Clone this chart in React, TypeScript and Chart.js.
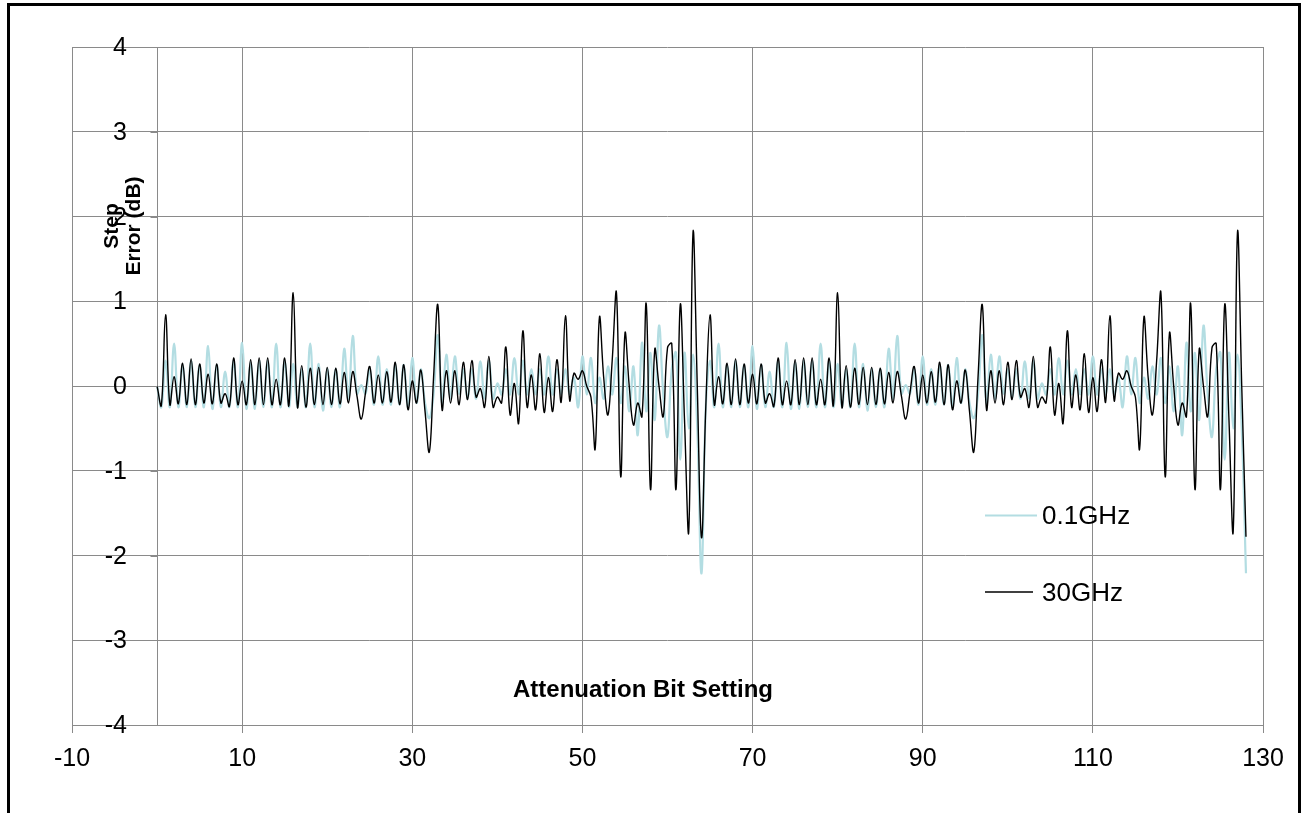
import React, { useEffect, useRef } from "react";
import { Chart, registerables } from "chart.js";

Chart.register(...registerables);

// Attenuation bit setting axis (half-step samples from 0 to 128)
const settingFirst = 0;
const settingStep = 0.5;

const xTickValues = [-10, 10, 30, 50, 70, 90, 110, 130];
const yTickValues = [-4, -3, -2, -1, 0, 1, 2, 3, 4];
const seriesNames = ["0.1GHz", "30GHz"];
const xAxisTitle = "Attenuation Bit Setting";
const yAxisTitleLines = ["Step", "Error (dB)"];

// Step error (dB) at 0.1 GHz
const error01GHz = [
  0.00, -0.25, 0.30, -0.25, 0.50, -0.25, 0.25, -0.25, 0.30, -0.25, 0.25, -0.25, 0.47, -0.27, 0.25, -0.25,
  0.17, -0.25, 0.30, -0.25, 0.51, -0.27, 0.28, -0.27, 0.30, -0.25, 0.30, -0.25, 0.50, -0.25, 0.30, -0.25,
  0.26, -0.25, 0.20, -0.25, 0.50, -0.25, 0.26, -0.29, 0.20, -0.25, 0.20, -0.25, 0.44, -0.15, 0.59, -0.09,
  0.01, -0.09, 0.20, -0.22, 0.35, -0.22, 0.20, -0.22, 0.25, -0.22, 0.25, -0.25, 0.33, -0.20, 0.20, -0.20,
  -0.38, -0.10, 0.60, -0.20, 0.37, -0.15, 0.35, -0.09, 0.20, -0.15, 0.20, -0.15, 0.29, -0.15, 0.30, -0.15,
  0.03, -0.10, 0.20, -0.10, 0.33, -0.10, 0.30, -0.10, 0.20, -0.10, 0.20, -0.10, 0.35, -0.10, 0.20, -0.10,
  0.20, -0.10, 0.10, -0.25, 0.35, -0.10, 0.33, -0.20, 0.10, -0.15, 0.23, -0.10, 0.33, -0.20, 0.23, -0.30,
  0.23, -0.58, 0.51, -0.30, 0.39, -0.40, 0.71, -0.10, -0.60, 0.20, 0.39, -0.87, 0.39, -0.50, 0.37, -0.50,
  -2.21, -0.25, 0.30, -0.25, 0.50, -0.25, 0.25, -0.25, 0.30, -0.25, 0.25, -0.25, 0.47, -0.27, 0.25, -0.25,
  0.17, -0.25, 0.30, -0.25, 0.51, -0.27, 0.28, -0.27, 0.30, -0.25, 0.30, -0.25, 0.50, -0.25, 0.30, -0.25,
  0.26, -0.25, 0.20, -0.25, 0.50, -0.25, 0.26, -0.29, 0.20, -0.25, 0.20, -0.25, 0.44, -0.15, 0.59, -0.09,
  0.01, -0.09, 0.20, -0.22, 0.35, -0.22, 0.20, -0.22, 0.25, -0.22, 0.25, -0.25, 0.33, -0.20, 0.20, -0.20,
  -0.38, -0.10, 0.60, -0.20, 0.37, -0.15, 0.35, -0.09, 0.20, -0.15, 0.20, -0.15, 0.29, -0.15, 0.30, -0.15,
  0.03, -0.10, 0.20, -0.10, 0.33, -0.10, 0.30, -0.10, 0.20, -0.10, 0.20, -0.10, 0.35, -0.10, 0.20, -0.10,
  0.20, -0.10, 0.10, -0.25, 0.35, -0.10, 0.33, -0.20, 0.10, -0.15, 0.23, -0.10, 0.33, -0.20, 0.23, -0.30,
  0.23, -0.58, 0.51, -0.30, 0.39, -0.40, 0.71, -0.10, -0.60, 0.20, 0.39, -0.87, 0.39, -0.50, 0.37, -0.50,
  -2.21,
];

// Step error (dB) at 30 GHz
const error30GHz = [
  0.00, -0.23, 0.84, -0.22, 0.11, -0.21, 0.27, -0.22, 0.32, -0.22, 0.26, -0.20, 0.14, -0.21, 0.26, -0.20,
  -0.09, -0.24, 0.33, -0.22, 0.06, -0.22, 0.31, -0.22, 0.33, -0.22, 0.33, -0.22, 0.08, -0.22, 0.33, -0.23,
  1.10, -0.25, 0.24, -0.25, 0.21, -0.22, 0.22, -0.22, 0.22, -0.22, 0.21, -0.21, 0.16, -0.20, 0.17, -0.12,
  -0.39, -0.08, 0.23, -0.20, 0.13, -0.20, 0.17, -0.19, 0.28, -0.22, 0.25, -0.28, 0.06, -0.20, 0.19, -0.30,
  -0.78, 0.10, 0.96, -0.28, 0.18, -0.20, 0.18, -0.22, 0.28, -0.16, 0.30, -0.13, -0.03, -0.25, 0.35, -0.25,
  -0.13, -0.20, 0.46, -0.34, 0.03, -0.44, 0.65, -0.25, 0.13, -0.28, 0.38, -0.31, 0.10, -0.30, 0.31, -0.19,
  0.83, -0.17, 0.15, 0.08, 0.18, 0.00, -0.13, -0.74, 0.81, 0.10, -0.34, 0.30, 1.10, -1.07, 0.62, 0.00,
  -0.46, -0.20, -0.36, 0.97, -1.22, 0.43, 0.00, -0.36, 0.45, 0.50, -1.22, 0.96, -0.40, -1.71, 1.81, 0.00,
  -1.79, -0.25, 0.84, -0.22, 0.11, -0.21, 0.27, -0.22, 0.32, -0.22, 0.26, -0.20, 0.14, -0.21, 0.26, -0.20,
  -0.09, -0.24, 0.33, -0.22, 0.06, -0.22, 0.31, -0.22, 0.33, -0.22, 0.33, -0.22, 0.08, -0.22, 0.33, -0.23,
  1.10, -0.25, 0.24, -0.25, 0.21, -0.22, 0.22, -0.22, 0.22, -0.22, 0.21, -0.21, 0.16, -0.20, 0.17, -0.12,
  -0.39, -0.08, 0.23, -0.20, 0.13, -0.20, 0.17, -0.19, 0.28, -0.22, 0.25, -0.28, 0.06, -0.20, 0.19, -0.30,
  -0.78, 0.10, 0.96, -0.28, 0.18, -0.20, 0.18, -0.22, 0.28, -0.16, 0.30, -0.13, -0.03, -0.25, 0.35, -0.25,
  -0.13, -0.20, 0.46, -0.34, 0.03, -0.44, 0.65, -0.25, 0.13, -0.28, 0.38, -0.31, 0.10, -0.30, 0.31, -0.19,
  0.83, -0.17, 0.15, 0.08, 0.18, 0.00, -0.13, -0.74, 0.81, 0.10, -0.34, 0.30, 1.10, -1.07, 0.62, 0.00,
  -0.46, -0.20, -0.36, 0.97, -1.22, 0.43, 0.00, -0.36, 0.45, 0.50, -1.22, 0.96, -0.40, -1.71, 1.81, 0.00,
  -1.78,
];

const FONT = "'Liberation Sans', Arial, sans-serif";
const GRID = "#8a8a8a";
const BLUE = "#b3dde2";
const BLACK = "#000000";

const toPoints = (vals: number[]) =>
  vals.map((v, k) => ({ x: settingFirst + k * settingStep, y: v }));

const overlayPlugin = {
  id: "overlay",
  afterDraw(chart: any) {
    const ctx = chart.ctx as CanvasRenderingContext2D;
    const xs = chart.scales.x;
    const ys = chart.scales.y;
    ctx.save();
    // small tick marks on the y axis (at x = 0) and its labels
    const x0 = Math.round(xs.getPixelForValue(0)) + 0.5;
    ctx.strokeStyle = GRID;
    ctx.lineWidth = 1;
    ctx.fillStyle = "#000";
    ctx.font = `25px ${FONT}`;
    ctx.textAlign = "right";
    ctx.textBaseline = "middle";
    yTickValues.forEach((v) => {
      const py = Math.round(ys.getPixelForValue(v)) + 0.5;
      ctx.beginPath();
      ctx.moveTo(x0 - 7, py);
      ctx.lineTo(x0, py);
      ctx.stroke();
      ctx.fillText(String(v), 127, py + 1);
    });

    // x axis title (inside plot)
    ctx.font = `bold 24px ${FONT}`;
    ctx.textAlign = "center";
    ctx.textBaseline = "middle";
    ctx.fillText(xAxisTitle, 643, 690);

    // y axis title, rotated, two lines
    ctx.save();
    ctx.translate(123, 226);
    ctx.rotate(-Math.PI / 2);
    ctx.font = `bold 21px ${FONT}`;
    ctx.textAlign = "center";
    ctx.textBaseline = "middle";
    ctx.fillText(yAxisTitleLines[0], 0, -11);
    ctx.fillText(yAxisTitleLines[1], 0, 11);
    ctx.restore();

    // legend
    ctx.font = `26px ${FONT}`;
    ctx.textAlign = "left";
    ctx.textBaseline = "middle";
    ctx.lineWidth = 2;
    ctx.strokeStyle = BLUE;
    ctx.beginPath();
    ctx.moveTo(985, 515.5);
    ctx.lineTo(1037, 515.5);
    ctx.stroke();
    ctx.fillText(seriesNames[0], 1042, 517);
    ctx.lineWidth = 1.3;
    ctx.strokeStyle = BLACK;
    ctx.beginPath();
    ctx.moveTo(985, 592);
    ctx.lineTo(1033, 592);
    ctx.stroke();
    ctx.fillText(seriesNames[1], 1042, 594);
    ctx.restore();
  },
};

export default function App() {
  const ref = useRef<HTMLCanvasElement>(null);

  useEffect(() => {
    document.body.style.margin = "0";
    const canvas = ref.current!;
    const chart = new Chart(canvas, {
      type: "line",
      data: {
        datasets: [
          {
            label: seriesNames[1],
            data: toPoints(error30GHz),
            borderColor: BLACK,
            borderWidth: 1.4,
            pointRadius: 0,
            tension: 0.4,
            fill: false,
            order: 0,
          },
          {
            label: seriesNames[0],
            data: toPoints(error01GHz),
            borderColor: BLUE,
            borderWidth: 2.2,
            pointRadius: 0,
            tension: 0.4,
            fill: false,
            order: 1,
          },
        ],
      },
      options: {
        responsive: false,
        animation: false,
        devicePixelRatio: 1,
        layout: { padding: { left: 72, right: 43, top: 47, bottom: 28 } },
        plugins: {
          legend: { display: false },
          tooltip: { enabled: false },
          title: { display: false },
        },
        scales: {
          x: {
            type: "linear",
            position: "bottom",
            min: -10,
            max: 130,
            afterBuildTicks: (s: any) => {
              s.ticks = xTickValues.map((v) => ({ value: v }));
            },
            afterFit: (s: any) => {
              s.height = 60;
            },
            grid: { color: GRID, lineWidth: 1, tickLength: 8, drawTicks: true },
            border: { display: true, color: GRID, width: 1 },
            ticks: {
              color: "#000",
              font: { family: FONT, size: 25 },
              padding: 11,
              maxRotation: 0,
              autoSkip: false,
            },
          },
          y: {
            type: "linear",
            position: { x: 0 } as any,
            min: -4,
            max: 4,
            afterBuildTicks: (s: any) => {
              s.ticks = yTickValues.map((v) => ({ value: v }));
            },
            grid: { color: GRID, lineWidth: 1, drawTicks: false },
            border: { display: true, color: GRID, width: 1 },
            ticks: { display: false },
          },
        },
      },
      plugins: [overlayPlugin],
    });
    return () => chart.destroy();
  }, []);

  return (
    <div style={{ position: "relative", width: 1306, height: 813, overflow: "hidden", background: "#fff" }}>
      <div
        style={{
          position: "absolute",
          left: 7,
          top: 3,
          width: 1294,
          height: 900,
          border: "3px solid #000",
          boxSizing: "border-box",
        }}
      />
      <canvas
        ref={ref}
        width={1306}
        height={813}
        style={{ position: "absolute", left: 0, top: 0, width: 1306, height: 813 }}
      />
    </div>
  );
}
